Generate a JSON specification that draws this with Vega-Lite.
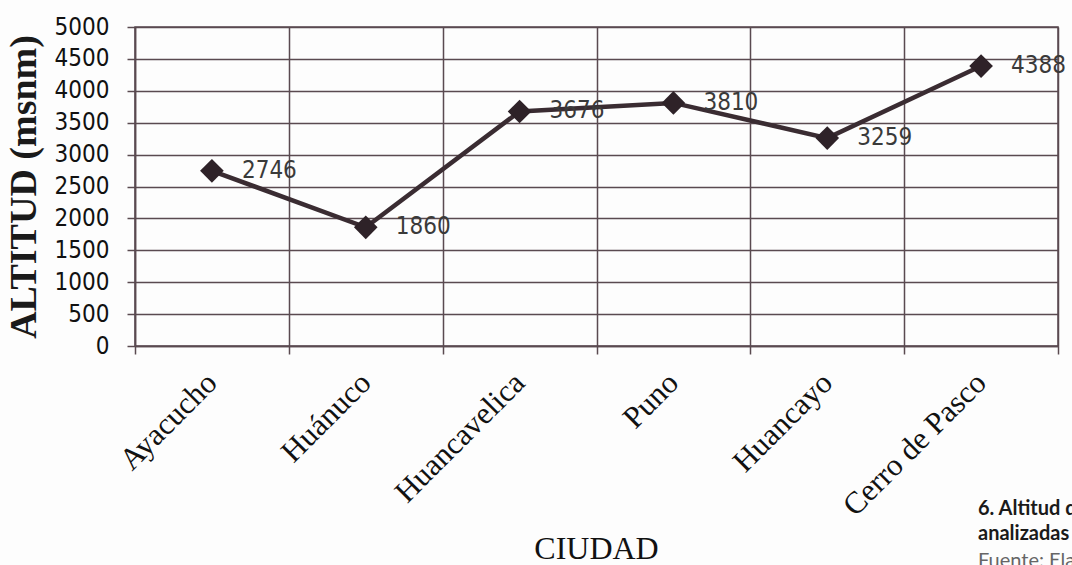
{
  "$schema": "https://vega.github.io/schema/vega-lite/v6.json",
  "autosize": "none",
  "width": 923,
  "height": 319,
  "padding": {"left": 135, "top": 27, "right": 14, "bottom": 219},
  "background": "#fdfdfd",
  "data": {
    "values": [
      {"ciudad": "Ayacucho", "altitud": 2746},
      {"ciudad": "Huánuco", "altitud": 1860},
      {"ciudad": "Huancavelica", "altitud": 3676},
      {"ciudad": "Puno", "altitud": 3810},
      {"ciudad": "Huancayo", "altitud": 3259},
      {"ciudad": "Cerro de Pasco", "altitud": 4388}
    ]
  },
  "title": {
    "text": ["6. Altitud de las ciudades", "analizadas"],
    "subtitle": "Fuente: Elaboración propia",
    "orient": "bottom",
    "anchor": "start",
    "frame": "group",
    "dx": 843,
    "dy": -69,
    "font": "Lato",
    "fontSize": 20,
    "fontWeight": "bold",
    "color": "#1a1a1a",
    "lineHeight": 25,
    "subtitleFont": "Lato",
    "subtitleFontSize": 20,
    "subtitleColor": "#666666",
    "subtitlePadding": 7
  },
  "config": {
    "view": {"stroke": "#5a4a50", "strokeWidth": 1.5}
  },
  "encoding": {
    "x": {
      "field": "ciudad",
      "type": "nominal",
      "sort": null,
      "bandPosition": 0.5,
      "scale": {"type": "band", "paddingInner": 0, "paddingOuter": 0},
      "axis": {
        "title": "CIUDAD",
        "titleFont": "Liberation Serif",
        "titleFontSize": 32,
        "titleFontWeight": "normal",
        "titleColor": "#111111",
        "titleX": 461,
        "titleY": 212,
        "titleAlign": "center",
        "titleBaseline": "alphabetic",
        "labelAngle": -45,
        "labelAlign": "right",
        "labelBaseline": "middle",
        "labelFont": "Liberation Serif",
        "labelFontSize": 31,
        "labelLimit": 400,
        "labelColor": "#111111",
        "labelPadding": 24,
        "tickBand": "extent",
        "tickSize": 8,
        "tickColor": "#5a4a50",
        "tickWidth": 1.5,
        "domainColor": "#5a4a50",
        "domainWidth": 1.5,
        "grid": true,
        "gridColor": "#5a4a50",
        "gridWidth": 1.5
      }
    },
    "y": {
      "field": "altitud",
      "type": "quantitative",
      "scale": {"domain": [0, 5000], "nice": false},
      "axis": {
        "title": "ALTITUD (msnm)",
        "titleFont": "Liberation Serif",
        "titleFontSize": 38,
        "titleFontWeight": "bold",
        "titleColor": "#1a1a1a",
        "titlePadding": 11,
        "values": [0, 500, 1000, 1500, 2000, 2500, 3000, 3500, 4000, 4500, 5000],
        "format": "d",
        "labelFont": "DejaVu Sans Condensed, DejaVu Sans",
        "labelFontSize": 24,
        "labelColor": "#111111",
        "labelPadding": 18,
        "tickSize": 8,
        "tickColor": "#5a4a50",
        "tickWidth": 1.5,
        "domainColor": "#5a4a50",
        "domainWidth": 1.5,
        "grid": true,
        "gridColor": "#5a4a50",
        "gridWidth": 1.5
      }
    }
  },
  "layer": [
    {
      "mark": {"type": "line", "color": "#3a2c32", "strokeWidth": 4.5}
    },
    {
      "mark": {"type": "point", "shape": "diamond", "filled": true, "size": 560, "color": "#2e2228", "opacity": 1}
    },
    {
      "mark": {"type": "text", "align": "left", "baseline": "middle", "dx": 30, "font": "DejaVu Sans Condensed, DejaVu Sans", "fontSize": 24, "color": "#3a3a3a"},
      "encoding": {"text": {"field": "altitud", "type": "quantitative", "format": "d"}}
    }
  ]
}
